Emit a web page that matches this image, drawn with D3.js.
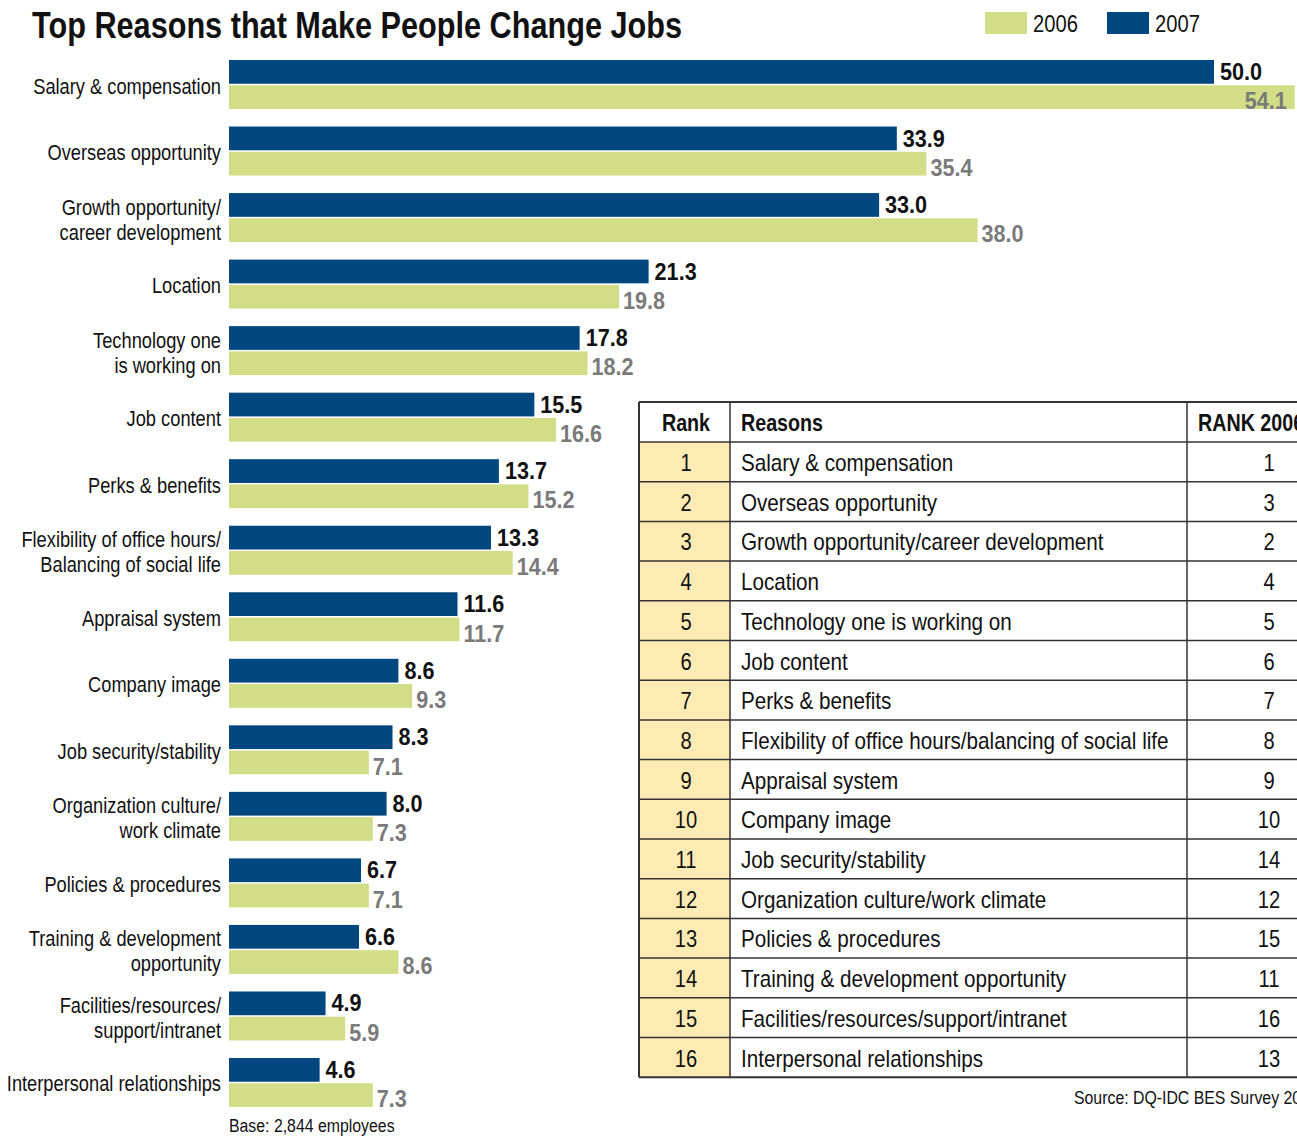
<!DOCTYPE html>
<html>
<head>
<meta charset="utf-8">
<script src="https://cdn.jsdelivr.net/npm/d3@7"></script>
<style>
  body { margin: 0; background: #fff; }
  svg { display: block; }
  text { font-family: "Liberation Sans", Arial, sans-serif; }
</style>
</head>
<body>
<svg id="chart" width="1297" height="1136"></svg>
<script>

// chart data
var categories = ["Salary & compensation", "Overseas opportunity", "Growth opportunity/\ncareer development",
  "Location", "Technology one\nis working on", "Job content", "Perks & benefits",
  "Flexibility of office hours/\nBalancing of social life", "Appraisal system", "Company image",
  "Job security/stability", "Organization culture/\nwork climate", "Policies & procedures",
  "Training & development\nopportunity", "Facilities/resources/\nsupport/intranet", "Interpersonal relationships"];

var values2007 = [50.0, 33.9, 33.0, 21.3, 17.8, 15.5, 13.7, 13.3, 11.6, 8.6, 8.3, 8.0, 6.7, 6.6, 4.9, 4.6];
var values2006 = [54.1, 35.4, 38.0, 19.8, 18.2, 16.6, 15.2, 14.4, 11.7, 9.3, 7.1, 7.3, 7.1, 8.6, 5.9, 7.3];

var series = ["2007", "2006"];
var legendYears = ["2006", "2007"];

// table data
var tableHeader = ["Rank", "Reasons", "RANK 2006"];
var tableRanks = [1, 2, 3, 4, 5, 6, 7, 8, 9, 10, 11, 12, 13, 14, 15, 16];
var tableReasons = ["Salary & compensation", "Overseas opportunity", "Growth opportunity/career development",
  "Location", "Technology one is working on", "Job content", "Perks & benefits",
  "Flexibility of office hours/balancing of social life", "Appraisal system", "Company image",
  "Job security/stability", "Organization culture/work climate", "Policies & procedures",
  "Training & development opportunity", "Facilities/resources/support/intranet", "Interpersonal relationships"];
var tableRank2006 = [1, 3, 2, 4, 5, 6, 7, 8, 9, 10, 14, 12, 15, 11, 16, 13];

var colors = {"2007": "#00477f", "2006": "#d2de87"};
var labelColors = {"2007": "#111111", "2006": "#7a7a7a"};

var svg = d3.select("#chart"),
    width = +svg.attr("width"),
    height = +svg.attr("height");

// no condensed face installed, so squeeze the glyphs horizontally
function condense(sel, r) {
  sel.each(function() {
    var w = this.getComputedTextLength();
    d3.select(this).attr("textLength", w * r).attr("lengthAdjust", "spacingAndGlyphs");
  });
  return sel;
}

// title
svg.append("text")
    .attr("x", 32)
    .attr("y", 38)
    .attr("textLength", 650)
    .attr("lengthAdjust", "spacingAndGlyphs")
    .style("font-size", "36px")
    .style("font-weight", "bold")
    .style("fill", "#111")
    .text("Top Reasons that Make People Change Jobs");

// legend
var legend = svg.selectAll(".legend")
    .data(legendYears)
  .enter().append("g")
    .attr("class", "legend")
    .attr("transform", function(d, i) { return "translate(" + (985 + i * 122) + ",12)"; });

legend.append("rect")
    .attr("width", 42)
    .attr("height", 22)
    .style("fill", function(d) { return colors[d]; });

condense(legend.append("text")
    .attr("x", 48)
    .attr("y", 20)
    .style("font-size", "24px")
    .style("fill", "#111")
    .text(function(d) { return d; }), 0.84);

// scales
var x = d3.scaleLinear()
    .domain([0, 50])
    .range([229, 1214]);

var y = d3.scaleBand()
    .domain(d3.range(categories.length))
    .range([60, 1107])
    .paddingInner(0.2635);

var ySub = d3.scaleBand()
    .domain(series)
    .range([0, y.bandwidth()])
    .paddingInner(0.06);

var rows = categories.map(function(c, i) {
  return {name: c, i: i, vals: [{key: "2007", v: values2007[i]}, {key: "2006", v: values2006[i]}]};
});

var group = svg.append("g")
  .selectAll(".group")
    .data(rows)
  .enter().append("g")
    .attr("class", "group")
    .attr("transform", function(d) { return "translate(0," + y(d.i) + ")"; });

group.selectAll("rect")
    .data(function(d) { return d.vals; })
  .enter().append("rect")
    .attr("x", x(0))
    .attr("y", function(d) { return ySub(d.key); })
    .attr("width", function(d) { return x(d.v) - x(0); })
    .attr("height", ySub.bandwidth())
    .style("fill", function(d) { return colors[d.key]; });

var vals = group.selectAll(".val")
    .data(function(d) { return d.vals; })
  .enter().append("text")
    .attr("class", "val")
    .attr("x", function(d) { return x(d.v) + (d.key == "2007" ? 6 : 4); })
    .attr("y", function(d) { return ySub(d.key) + (d.key == "2007" ? 20 : 24); })
    .style("font-size", "24px")
    .style("font-weight", "bold")
    .style("fill", function(d) { return labelColors[d.key]; })
    .text(function(d) { return d.v.toFixed(1); });

condense(vals, 0.9).each(function(d) {
  // keep labels on the page: pull them back inside the bar
  var w = +d3.select(this).attr("textLength");
  if (x(d.v) + 6 + w > width) {
    d3.select(this).attr("x", x(d.v) - 8).attr("text-anchor", "end");
  }
});

// category labels, one text per line
group.each(function(d) {
  var lines = d.name.split("\n");
  var c = y.bandwidth() / 2;
  var g = d3.select(this);
  lines.forEach(function(l, k) {
    var yy = lines.length == 1 ? c + 9 : c - 3 + k * 25;
    condense(g.append("text")
        .attr("text-anchor", "end")
        .attr("x", 221)
        .attr("y", yy)
        .style("font-size", "22px")
        .style("fill", "#111")
        .text(l), 0.83);
  });
});

condense(svg.append("text")
    .attr("x", 229)
    .attr("y", 1132)
    .style("font-size", "18px")
    .style("fill", "#111")
    .text("Base: 2,844 employees"), 0.88);

// ranking table
var colX = [639, 730, 1187, 1360];
var headH = 40, rowH = 39.7, tTop = 402;
var table = svg.append("g");
var nRows = tableRanks.length;

table.append("rect")
    .attr("x", colX[0])
    .attr("y", tTop + headH)
    .attr("width", colX[1] - colX[0])
    .attr("height", nRows * rowH)
    .style("fill", "#fdebb3");

// horizontal rules
table.selectAll(".hline")
    .data(d3.range(nRows + 2))
  .enter().append("line")
    .attr("x1", colX[0])
    .attr("x2", colX[3])
    .attr("y1", function(d) { return d == 0 ? tTop : tTop + headH + (d - 1) * rowH; })
    .attr("y2", function(d) { return d == 0 ? tTop : tTop + headH + (d - 1) * rowH; })
    .style("stroke", "#333")
    .style("stroke-width", function(d) { return (d == 0 || d == nRows + 1) ? 2 : 1.5; });

table.selectAll(".vline")
    .data(colX.slice(0, 3))
  .enter().append("line")
    .attr("x1", function(d) { return d; })
    .attr("x2", function(d) { return d; })
    .attr("y1", tTop)
    .attr("y2", tTop + headH + nRows * rowH)
    .style("stroke", "#333")
    .style("stroke-width", function(d, i) { return i == 0 ? 2 : 1.5; });

var heads = table.selectAll(".head")
    .data(tableHeader)
  .enter().append("text")
    .attr("x", function(d, i) { return [686, 741, 1198][i]; })
    .attr("y", tTop + 29)
    .attr("text-anchor", function(d, i) { return i == 0 ? "middle" : "start"; })
    .style("font-size", "24px")
    .style("font-weight", "bold")
    .style("fill", "#111")
    .text(function(d) { return d; });
condense(heads, 0.82);

var trow = table.selectAll(".trow")
    .data(tableRanks)
  .enter().append("g")
    .attr("transform", function(d, i) { return "translate(0," + (tTop + headH + i * rowH) + ")"; });

condense(trow.append("text").attr("x", 686).attr("y", 29).attr("text-anchor", "middle")
    .style("font-size", "24px").style("fill", "#111").text(function(d) { return d; }), 0.84);
condense(trow.append("text").attr("x", 741).attr("y", 29)
    .style("font-size", "24px").style("fill", "#111").text(function(d, i) { return tableReasons[i]; }), 0.86);
condense(trow.append("text").attr("x", 1269).attr("y", 29).attr("text-anchor", "middle")
    .style("font-size", "24px").style("fill", "#111").text(function(d, i) { return tableRank2006[i]; }), 0.84);

condense(svg.append("text")
    .attr("x", 1074)
    .attr("y", 1104)
    .style("font-size", "18px")
    .style("fill", "#111")
    .text("Source: DQ-IDC BES Survey 2007"), 0.88);

</script>
</body>
</html>
